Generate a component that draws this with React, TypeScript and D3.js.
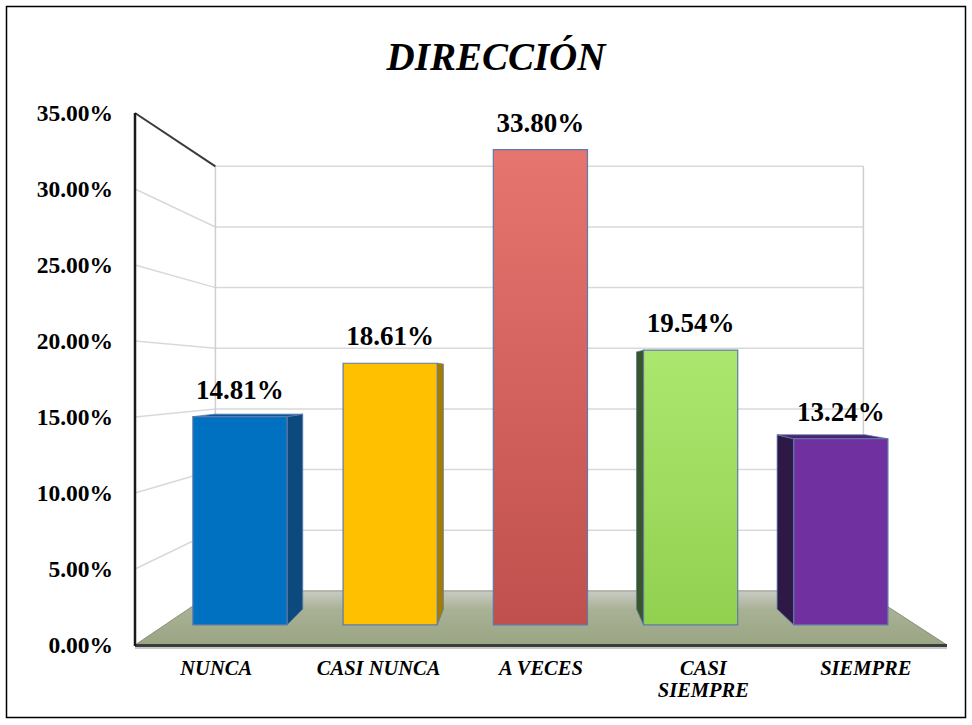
import React from "react";
import * as d3 from "d3";

const categories = ["NUNCA", "CASI NUNCA", "A VECES", "CASI SIEMPRE", "SIEMPRE"];
const categoryLines = [["NUNCA"], ["CASI NUNCA"], ["A VECES"], ["CASI", "SIEMPRE"], ["SIEMPRE"]];
const values = [14.81, 18.61, 33.8, 19.54, 13.24];
const yTicks = [0, 5, 10, 15, 20, 25, 30, 35];
const title = "DIRECCIÓN";

const frontColors = ["#0070c0", "#ffc000", "url(#gRed)", "url(#gGreen)", "#7030a0"];
const sideColors = ["#0c4a7e", "#a47c00", "#a94442", "#3a5626", "#2d1846"];
const topColors = ["#0b5593", "#c89600", "#d0605c", "#6f9c3c", "#4a2270"];

const W = 972;
const H = 725;
const V = { x: 533, y: 377 };
const S_FRONT = 1;
const S_BAR_F = 0.925;
const S_BAR_B = 0.866;
const S_BACK = 0.798;
const FONT = "'Liberation Serif', 'Times New Roman', serif";

function proj(X: number, Y: number, s: number): [number, number] {
  return [V.x + s * (X - V.x), V.y + s * (Y - V.y)];
}
function pts(arr: [number, number][]) {
  return arr.map((p) => p[0].toFixed(2) + "," + p[1].toFixed(2)).join(" ");
}

export default function App() {
  const x = d3
    .scaleBand<string>()
    .domain(categories)
    .range([135, 947])
    .paddingInner(0.373)
    .paddingOuter(0.1865);
  const y = d3.scaleLinear().domain([0, 35]).range([645, 113]);
  const bw = x.bandwidth();
  const X0 = 135;
  const X1 = 947;
  const fmt = d3.format(".2f");

  const floor: [number, number][] = [
    proj(X0, y(0), S_FRONT),
    proj(X1, y(0), S_FRONT),
    proj(X1, y(0), S_BACK),
    proj(X0, y(0), S_BACK),
  ];

  return (
    <svg
      width={W}
      height={H}
      style={{ position: "absolute", left: 0, top: 0, background: "#fff" }}
    >
      <defs>
        <linearGradient id="gRed" x1="0" y1="0" x2="0" y2="1">
          <stop offset="0" stopColor="#e6746f" />
          <stop offset="1" stopColor="#c0504d" />
        </linearGradient>
        <linearGradient id="gGreen" x1="0" y1="0" x2="0" y2="1">
          <stop offset="0" stopColor="#abe76e" />
          <stop offset="1" stopColor="#92d050" />
        </linearGradient>
        <linearGradient id="gFloor" x1="0" y1="0" x2="0" y2="1">
          <stop offset="0" stopColor="#c9cbc4" />
          <stop offset="0.35" stopColor="#a8b194" />
          <stop offset="1" stopColor="#9aa584" />
        </linearGradient>
      </defs>
      <rect x={6.5} y={6.5} width={959} height={711} fill="#fff" stroke="#000" strokeWidth={1.5} />

      <text
        x={496}
        y={70}
        textAnchor="middle"
        fontFamily={FONT}
        fontWeight="bold"
        fontStyle="italic"
        fontSize={39}
      >
        {title}
      </text>

      {/* back wall & left wall gridlines */}
      {yTicks
        .filter((t) => t > 0)
        .map((t) => {
          const a = proj(X0, y(t), S_BACK);
          const b = proj(X1, y(t), S_BACK);
          const c = proj(X0, y(t), S_FRONT);
          return (
            <g key={"g" + t}>
              <line x1={a[0]} y1={a[1]} x2={b[0]} y2={b[1]} stroke="#d9d9d9" strokeWidth={1.5} />
              {t < 35 && (
                <line x1={c[0]} y1={c[1]} x2={a[0]} y2={a[1]} stroke="#d9d9d9" strokeWidth={1.5} />
              )}
            </g>
          );
        })}
      {[X0, X1].map((X, i) => {
        const a = proj(X, y(0), S_BACK);
        const b = proj(X, y(35), S_BACK);
        return <line key={"v" + i} x1={a[0]} y1={a[1]} x2={b[0]} y2={b[1]} stroke="#cfcfcf" strokeWidth={1.5} />;
      })}
      {(() => {
        const a = proj(X0, y(35), S_FRONT);
        const b = proj(X0, y(35), S_BACK);
        return <line x1={a[0]} y1={a[1]} x2={b[0]} y2={b[1]} stroke="#3a3a3a" strokeWidth={2} />;
      })()}

      {/* floor */}
      <polygon points={pts(floor)} fill="url(#gFloor)" stroke="#7d8470" strokeWidth={0.8} />
      <line x1={X0} y1={648} x2={floor[1][0]} y2={648} stroke="#c8c8c8" strokeWidth={2} />
      <line x1={X0} y1={645.5} x2={floor[1][0]} y2={645.5} stroke="#3c3c3c" strokeWidth={3} />

      {/* front-left axis */}
      <line x1={X0} y1={y(35)} x2={X0} y2={y(0) + 1} stroke="#1a1a1a" strokeWidth={2.5} />

      {/* bars */}
      {categories.map((c, i) => {
        const L = x(c) as number;
        const R = L + bw;
        const Yt = y(values[i]);
        const Yb = y(0);
        const front: [number, number][] = [
          proj(L, Yt, S_BAR_F),
          proj(R, Yt, S_BAR_F),
          proj(R, Yb, S_BAR_F),
          proj(L, Yb, S_BAR_F),
        ];
        const sideX = R < V.x ? R : L > V.x ? L : null;
        const side: [number, number][] | null =
          sideX === null
            ? null
            : [proj(sideX, Yt, S_BAR_F), proj(sideX, Yt, S_BAR_B), proj(sideX, Yb, S_BAR_B), proj(sideX, Yb, S_BAR_F)];
        const top: [number, number][] | null =
          Yt > V.y
            ? [proj(L, Yt, S_BAR_F), proj(R, Yt, S_BAR_F), proj(R, Yt, S_BAR_B), proj(L, Yt, S_BAR_B)]
            : null;
        const lab = proj(L + bw / 2, Yt, S_BAR_F);
        return (
          <g key={c}>
            {side && <polygon points={pts(side)} fill={sideColors[i]} stroke="#5d7aa8" strokeWidth={0.8} />}
            {top && <polygon points={pts(top)} fill={topColors[i]} stroke="#5d7aa8" strokeWidth={0.8} />}
            <polygon points={pts(front)} fill={frontColors[i]} stroke="#5d7aa8" strokeWidth={1.2} />
            <text
              x={lab[0]}
              y={lab[1] - 18}
              textAnchor="middle"
              fontFamily={FONT}
              fontWeight="bold"
              fontSize={27}
            >
              {fmt(values[i]) + "%"}
            </text>
          </g>
        );
      })}

      {/* y tick labels */}
      {yTicks.map((t) => (
        <text
          key={"t" + t}
          x={113}
          y={y(t) + 8}
          textAnchor="end"
          fontFamily={FONT}
          fontWeight="bold"
          fontSize={23.5}
        >
          {fmt(t) + "%"}
        </text>
      ))}

      {/* category labels */}
      {categories.map((c, i) => (
        <text
          key={"c" + c}
          x={(x(c) as number) + bw / 2}
          y={675}
          textAnchor="middle"
          fontFamily={FONT}
          fontWeight="bold"
          fontStyle="italic"
          fontSize={20.5}
        >
          {categoryLines[i].map((ln, j) => (
            <tspan key={j} x={(x(c) as number) + bw / 2} dy={j === 0 ? 0 : 22}>
              {ln}
            </tspan>
          ))}
        </text>
      ))}
    </svg>
  );
}
